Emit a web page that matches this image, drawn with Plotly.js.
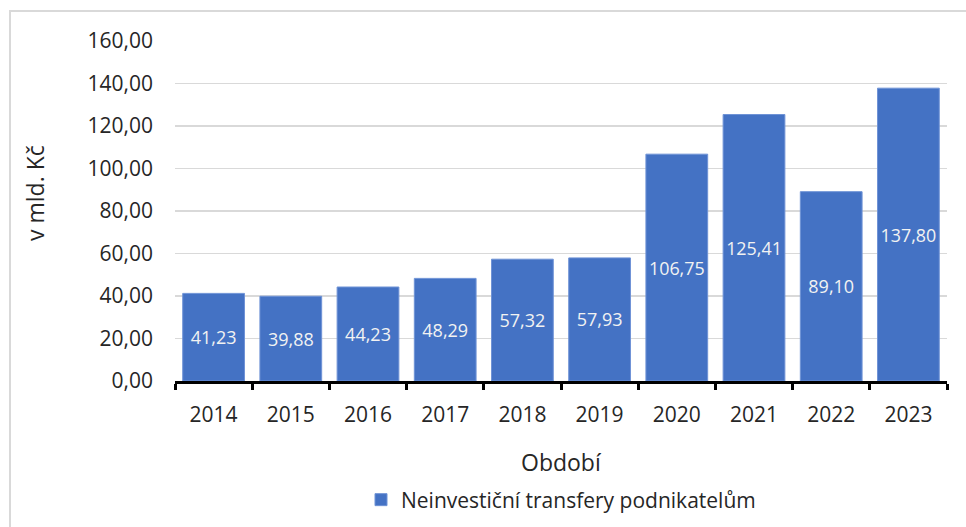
<!DOCTYPE html>
<html>
<head>
<meta charset="utf-8">
<script src="https://cdn.plot.ly/plotly-3.0.1.min.js"></script>
<style>
html,body{margin:0;padding:0;background:#fff;}
#chart{width:966px;height:527px;position:relative;}
#frame{position:absolute;left:9px;top:10px;width:1000px;height:600px;border-left:2px solid #d9d9d9;border-top:2px solid #d9d9d9;pointer-events:none;}
</style>
</head>
<body>
<div id="chart"></div>
<div id="frame"></div>
<script>
const years = ['2014','2015','2016','2017','2018','2019','2020','2021','2022','2023'];
const values = [41.23, 39.88, 44.23, 48.29, 57.32, 57.93, 106.75, 125.41, 89.10, 137.80];
const seriesName = 'Neinvestiční transfery podnikatelům';
const xTitle = 'Období';
const yTitle = 'v mld. Kč';
const yTicks = [0, 20, 40, 60, 80, 100, 120, 140, 160];

const font = 'Open Sans, Noto Sans, sans-serif';
const txt = '#262626';
const trace = {
  type: 'bar',
  x: years,
  y: values,
  name: seriesName,
  marker: {color: '#4472C4', line: {color: '#6f93d6', width: 1}},
  texttemplate: '%{y:.2f}',
  textposition: 'inside',
  insidetextanchor: 'middle',
  textangle: 0,
  textfont: {family: font, size: 18, color: '#f2f2f2'},
  hoverinfo: 'x+y'
};
const layout = {
  width: 966, height: 527,
  margin: {l: 175, r: 19, t: 41, b: 146, autoexpand: false},
  paper_bgcolor: '#ffffff', plot_bgcolor: '#ffffff',
  separators: ', ',
  bargap: 0.2,
  showlegend: true,
  legend: {orientation: 'h', x: 0.5, xanchor: 'center', y: (381 - 500) / 340, yanchor: 'middle',
           font: {family: font, size: 21, color: txt}, itemwidth: 30},
  font: {family: font, color: txt},
  xaxis: {
    type: 'category',
    tickson: 'boundaries',
    ticks: 'outside', ticklen: 6, tickwidth: 3, tickcolor: '#000',
    showline: true, linecolor: '#000', linewidth: 3,
    ticklabelstandoff: 13,
    tickfont: {family: font, size: 21, color: txt},
    fixedrange: true
  },
  yaxis: {
    range: [0, 160],
    tickvals: yTicks,
    tickformat: '.2f',
    showgrid: true, gridcolor: '#d9d9d9', gridwidth: 1.5,
    zeroline: false, showline: false,
    ticks: '', ticklabelstandoff: 21,
    tickfont: {family: font, size: 21, color: txt},
    fixedrange: true
  },
  annotations: [{
    text: yTitle, textangle: -90, showarrow: false,
    xref: 'paper', yref: 'paper',
    x: (35 - 175) / 772, xanchor: 'center',
    y: (381 - 193) / 340, yanchor: 'middle',
    font: {family: font, size: 23, color: txt}
  }, {
    text: xTitle, showarrow: false,
    xref: 'paper', yref: 'paper',
    x: 0.5, xanchor: 'center',
    y: (381 - 462) / 340, yanchor: 'middle',
    font: {family: font, size: 23, color: txt}
  }]
};
Plotly.newPlot('chart', [trace], layout, {displayModeBar: false, staticPlot: true});
</script>
</body>
</html>
